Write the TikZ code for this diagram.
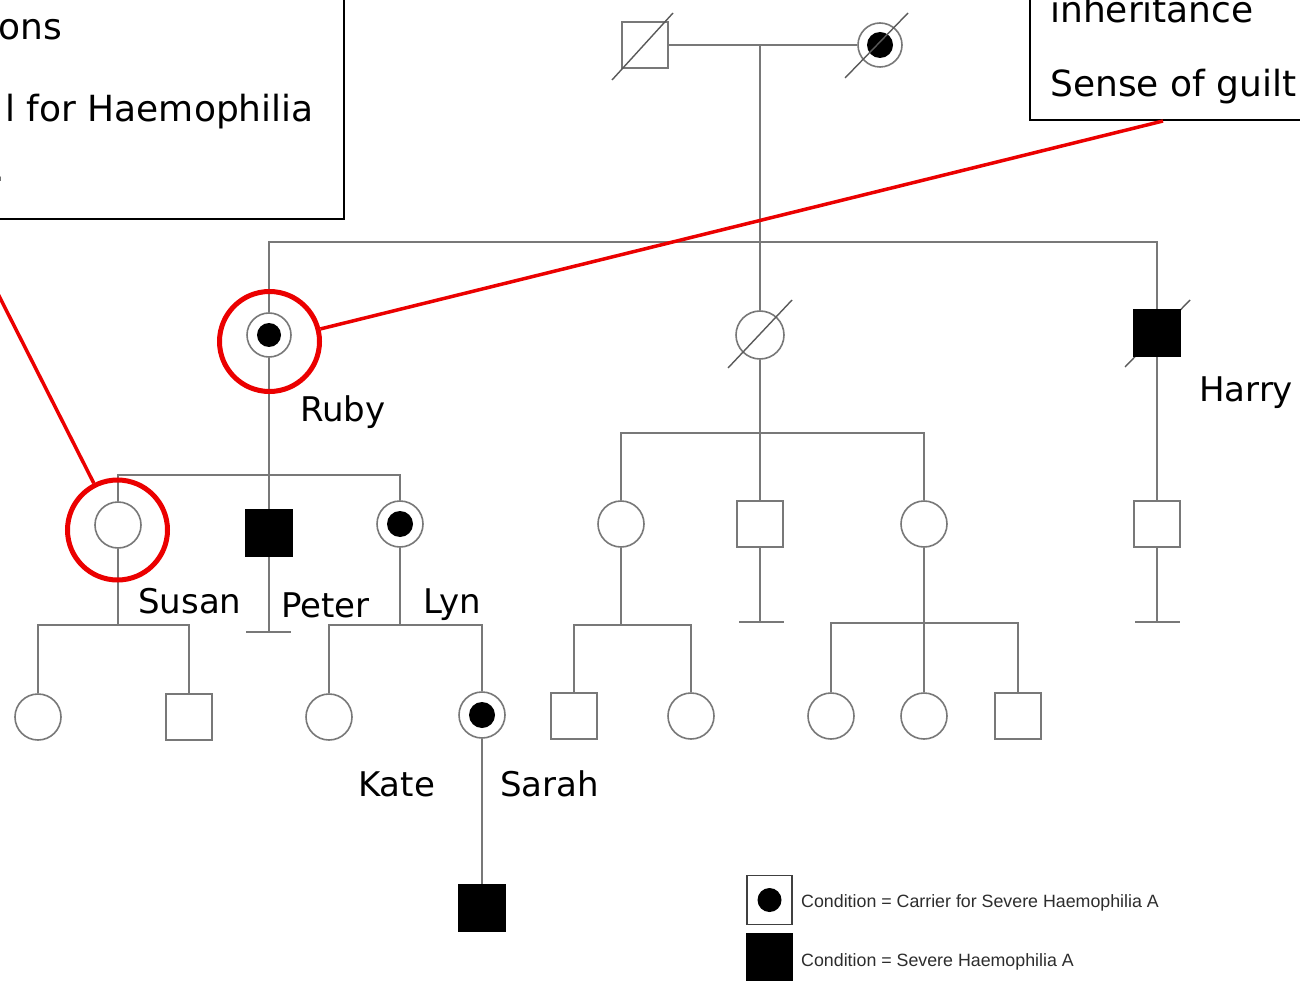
\documentclass[tikz,border=0pt]{standalone}
\usepackage{fontspec}
\setmainfont{DejaVu Sans}
\newfontfamily\legendfont{Liberation Sans}
\definecolor{lc}{RGB}{120,120,120}
\definecolor{dc}{RGB}{90,90,90}
\definecolor{lgc}{RGB}{45,45,45}
\definecolor{ringred}{RGB}{235,0,0}
\begin{document}
\begin{tikzpicture}[x=1pt,y=-1pt,
  pl/.style={draw=lc, line width=1.8pt},
  fem/.style={circle, draw=lc, line width=1.6pt, minimum size=46pt, inner sep=0pt, fill=white},
  mal/.style={rectangle, draw=lc, line width=1.6pt, minimum size=46pt, inner sep=0pt, fill=white},
  aff/.style={mal, fill=black, draw=black},
  carr/.style={fem, path picture={\fill[black] (path picture bounding box.center) circle[radius=13pt];}},
  dec/.style={draw=dc, line width=1.4pt},
  lbl/.style={anchor=base west, inner sep=0pt, font=\fontsize{34}{40}\selectfont},
  boxtxt/.style={inner sep=0pt, font=\fontsize{36}{42}\selectfont},
  ring/.style={circle, draw=ringred, line width=5pt, minimum size=100pt, inner sep=0pt},
  redline/.style={draw=ringred, line width=3.5pt},
  legtxt/.style={anchor=base west, inner sep=0pt, font=\legendfont\fontsize{17.8}{20}\selectfont, text=lgc},
  boxline/.style={draw=black, line width=1.8pt}
]
\fill[white] (0,0) rectangle (1300,981);
\useasboundingbox (0,0) rectangle (1300,981);
\clip (0,0) rectangle (1300,981);

% text boxes
\draw[boxline] (-10,-10) rectangle (344,219);
\node[boxtxt, anchor=base east] (t1) at (62,40) {ons};
\node[boxtxt, anchor=base east] (t2) at (314,122) {l for Haemophilia};
\node[boxtxt, anchor=base east] (t3) at (5,182) {.};
\draw[boxline] (1030,-10) rectangle (1310,120);
\node[boxtxt, anchor=base west] (t4) at (1050,23) {inheritance};
\node[boxtxt, anchor=base west] (t5) at (1050,97) {Sense of guilt};

% generation 1
\node[mal] (gf) at (645,45) {};
\node[carr, minimum size=44pt] (gm) at (880,45) {};
\draw[pl] (gf) -- (gm);
\draw[dec] (612,80) -- (673,13);
\draw[dec] (845,78) -- (908,13);
\coordinate (cm) at (760,45);
\coordinate (s1) at (760,242);

% generation 2
\node[carr, minimum size=44pt, path picture={\fill[black] (path picture bounding box.center) circle[radius=12pt];}] (ruby) at (269,335) {};
\node[fem, minimum size=48pt] (mid) at (760,335) {};
\draw[dec] (1125,367) -- (1190,300);
\node[aff] (harry) at (1157,333) {};
\draw[pl] (cm) -- (mid);
\draw[pl] (ruby) -- (ruby |- s1) -- (harry |- s1) -- (harry);
\draw[dec] (728,368) -- (792,300);

% generation 3 left
\node[fem] (susan) at (118,525) {};
\node[aff] (peter) at (269,533) {};
\node[carr] (lyn) at (400,524) {};
\coordinate (s3) at (269,475);
\draw[pl] (ruby) -- (peter);
\draw[pl] (susan) -- (susan |- s3) -- (lyn |- s3) -- (lyn);
\coordinate (pbar) at (269,632);
\coordinate (pbarL) at (246,632);
\coordinate (pbarR) at (291,632);
\draw[pl] (peter) -- (pbar);
\draw[pl] (pbarL) -- (pbarR);

% generation 4 left
\coordinate (s4a) at (118,625);
\node[fem] (c41) at (38,717) {};
\node[mal] (m42) at (189,717) {};
\draw[pl] (susan) -- (s4a);
\draw[pl] (c41) -- (c41 |- s4a) -- (m42 |- s4a) -- (m42);
\coordinate (s4b) at (400,625);
\node[fem] (kate) at (329,717) {};
\node[carr] (sarah) at (482,715) {};
\draw[pl] (lyn) -- (s4b);
\draw[pl] (kate) -- (kate |- s4b) -- (sarah |- s4b) -- (sarah);
\node[aff] (g5) at (482,908) {};
\draw[pl] (sarah) -- (g5);

% middle branch
\node[fem] (c3a) at (621,524) {};
\node[mal] (m3b) at (760,524) {};
\node[fem] (c3c) at (924,524) {};
\coordinate (s2) at (760,433);
\draw[pl] (mid) -- (m3b);
\draw[pl] (c3a) -- (c3a |- s2) -- (c3c |- s2) -- (c3c);
\coordinate (mbar) at (760,622);
\coordinate (mbarL) at (739,622);
\coordinate (mbarR) at (784,622);
\draw[pl] (m3b) -- (mbar);
\draw[pl] (mbarL) -- (mbarR);

\coordinate (s5) at (621,625);
\node[mal] (m4a) at (574,716) {};
\node[fem] (c4b) at (691,716) {};
\draw[pl] (c3a) -- (s5);
\draw[pl] (m4a) -- (m4a |- s5) -- (c4b |- s5) -- (c4b);

\coordinate (s6) at (924,623);
\node[fem] (c4c) at (831,716) {};
\node[fem] (c4d) at (924,716) {};
\node[mal] (m4e) at (1018,716) {};
\draw[pl] (c3c) -- (c4d);
\draw[pl] (c4c) -- (c4c |- s6) -- (m4e |- s6) -- (m4e);

% Harry branch
\node[mal] (hs) at (1157,524) {};
\draw[pl] (harry) -- (hs);
\coordinate (hbar) at (1157,622);
\coordinate (hbarL) at (1135,622);
\coordinate (hbarR) at (1180,622);
\draw[pl] (hs) -- (hbar);
\draw[pl] (hbarL) -- (hbarR);

% labels
\node[lbl] (lruby) at (300,421) {Ruby};
\node[lbl] (lharry) at (1199,401) {Harry};
\node[lbl] (lsusan) at (138,613) {Susan};
\node[lbl] (lpeter) at (281,617) {Peter};
\node[lbl] (llyn) at (423,613) {Lyn};
\node[lbl] (lkate) at (358,796) {Kate};
\node[lbl] (lsarah) at (500,796) {Sarah};

% red highlights
\node[ring] (rubyring) at (269.5,341.5) {};
\node[ring] (susanring) at (117.5,530) {};
\coordinate (tbox) at (1163,121);
\draw[redline] (tbox) -- (rubyring);
\coordinate (lfree) at (-5,288);
\draw[redline] (lfree) -- (susanring);

% legend
\node[mal, draw=black!75, minimum width=45pt, minimum height=49pt,
  path picture={\fill[black] (path picture bounding box.center) circle[radius=12pt];}] (legc) at (769.5,900) {};
\node[aff, minimum width=45pt, minimum height=49pt] (lega) at (769.5,958) {};
\node[legtxt] (legt1) at (801,907) {Condition = Carrier for Severe Haemophilia A};
\node[legtxt] (legt2) at (801,966) {Condition = Severe Haemophilia A};
\end{tikzpicture}
\end{document}
